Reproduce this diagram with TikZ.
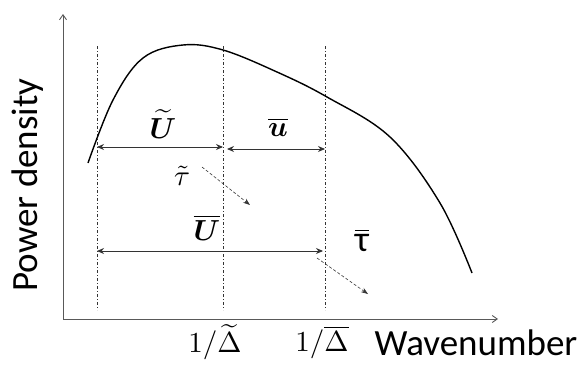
\documentclass[tikz,border=0pt]{standalone}
\usepackage{fontspec}
\usepackage{bm}
\setmainfont{Carlito}
\usetikzlibrary{arrows.meta}
\newcommand{\myscl}[1]{\scalebox{2.9}{#1}}
\tikzset{
  axis/.style={draw=black!65, line width=0.9pt, -{Straight Barb[length=5pt,width=7pt]}},
  guide/.style={draw=black!80, line width=0.6pt, dash pattern=on 3pt off 2pt on 1pt off 2pt},
  dim/.style={draw=black!80, line width=0.9pt, {Stealth[length=7pt,width=6pt]}-{Stealth[length=7pt,width=6pt]}},
  flow/.style={draw=black!80, line width=0.6pt, dash pattern=on 3pt off 2pt, -{Stealth[length=7pt,width=5pt]}},
  txt/.style={inner sep=0pt, font=\fontsize{37}{42}\selectfont},
  mth/.style={inner sep=0pt},
}
\begin{document}
\begin{tikzpicture}[x=1pt,y=-1pt]
\useasboundingbox (0,0) rectangle (581,372);
% axes
\coordinate (O) at (63,319);
\coordinate (ytip) at (63,14);
\coordinate (xtip) at (498,319);
\draw[axis] (O) -- (ytip);
\draw[axis] (O) -- (xtip);
% guide lines
\coordinate (g1t) at (97,46);  \coordinate (g1b) at (97,310);
\coordinate (g2t) at (223,46); \coordinate (g2b) at (223,310);
\coordinate (g3t) at (325,46); \coordinate (g3b) at (325,310);
\draw[guide] (g1t) -- (g1b);
\draw[guide] (g2t) -- (g2b);
\draw[guide] (g3t) -- (g3b);
% curve
\draw[line width=1.4pt] plot[smooth, tension=0.6] coordinates {
  (88,163) (113,100) (143,58) (183,45) (223,50) (277,72) (327,97)
  (390,137) (440,203) (472,273)};
% dimension arrows
\coordinate (a1) at (97,147);  \coordinate (a2) at (223,147);
\coordinate (b1) at (227,149); \coordinate (b2) at (325,149);
\coordinate (c1) at (97,251);  \coordinate (c2) at (323,251);
\draw[dim] (a1) -- (a2);
\draw[dim] (b1) -- (b2);
\draw[dim] (c1) -- (c2);
% flow arrows
\coordinate (f1s) at (202,167); \coordinate (f1e) at (250,205);
\coordinate (f2s) at (317,258); \coordinate (f2e) at (368,294);
\draw[flow] (f1s) -- (f1e);
\draw[flow] (f2s) -- (f2e);
% labels
\node[mth] (lU) at (163,124) {\myscl{$\widetilde{\bm U}$}};
\node[mth] (lu) at (278,127) {\myscl{$\overline{\bm u}$}};
\node[mth] (ltt) at (182,176) {\myscl{$\tilde{\tau}$}};
\node[mth] (lUb) at (207,228) {\myscl{$\overline{\bm U}$}};
\node[mth] (ltb) at (362,240) {\myscl{$\overline{\mbox{\fontsize{12.5}{14}\selectfont τ}}$}};
\node[mth] (ld1) at (215,342) {\myscl{$1/\widetilde{\Delta}$}};
\node[mth] (ld2) at (322,342) {\myscl{$1/\overline{\Delta}$}};
\node[txt] (lw) at (476,343) {Wavenumber};
\node[txt, rotate=90] (lp) at (28,185) {Power density};
\end{tikzpicture}
\end{document}
